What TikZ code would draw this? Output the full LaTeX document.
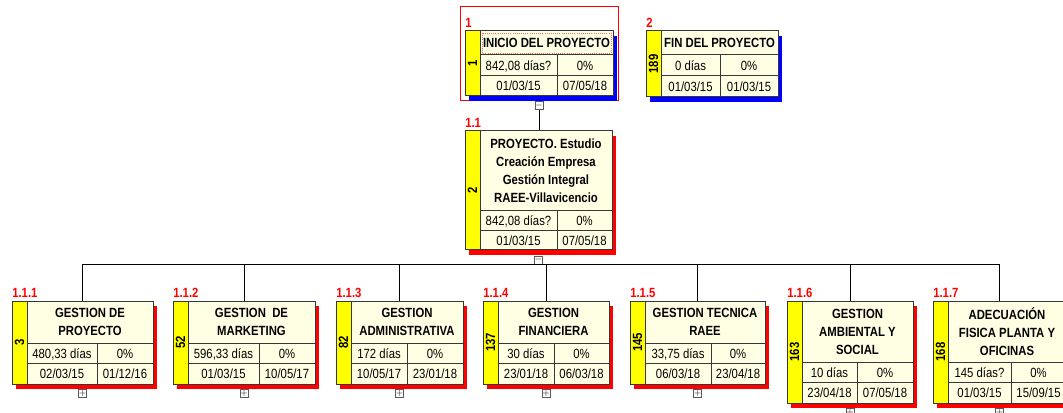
\documentclass[tikz,border=0pt]{standalone}
\usepackage{fontspec}
\setmainfont{Liberation Sans}[FakeStretch=0.85]
\usepackage{tikz}
\usetikzlibrary{calc,fit}

\definecolor{cellcream}{RGB}{255,255,228}
\definecolor{idyellow}{RGB}{255,255,0}
\definecolor{wbsred}{RGB}{255,0,0}
\definecolor{wbsblue}{RGB}{0,0,255}
\definecolor{edgegray}{RGB}{55,55,55}

% box frame: name, left, top, right, bottom, header bottom, column split, id, shadow
\newcommand{\wbsbox}[9]{%
  \fill[#9] ({#2+4},{#3+5}) rectangle ({#4+4},{#5+5});
  \coordinate (#1-nw) at (#2,#3);
  \coordinate (#1-se) at (#4,#5);
  \node[wbs, fit=(#1-nw)(#1-se)] (#1) {};
  \draw[wbsline, fill=idyellow] (#2,#3) rectangle ({#2+15},#5);
  \node[idtext] (#1-id) at ({#2+7.5},{(#3+#5)/2}) {#8};
  \draw[wbsline] ({#2+15},#6) -- (#4,#6);
  \draw[wbsline] ({#2+15},{(#6+#5)/2}) -- (#4,{(#6+#5)/2});
  \draw[wbsline] (#7,#6) -- (#7,#5);
  \coordinate (#1-title) at ({(#2+15+#4)/2},{(#3+#6)/2});
  \coordinate (#1-dur) at ({(#2+15+#7)/2},{(3*#6+#5)/4});
  \coordinate (#1-pct) at ({(#7+#4)/2},{(3*#6+#5)/4});
  \coordinate (#1-start) at ({(#2+15+#7)/2},{(#6+3*#5)/4});
  \coordinate (#1-end) at ({(#7+#4)/2},{(#6+3*#5)/4});
}
% box texts: name, code, title, duration, percent, start, end
\newcommand{\wbstext}[7]{%
  \node[codelab] (#1-c) at ($(#1-nw)+(0,-3)$) {#2};
  \node[ttl] (#1-t) at (#1-title) {#3};
  \node[celltext] (#1-d) at (#1-dur) {#4};
  \node[celltext] (#1-p) at (#1-pct) {#5};
  \node[celltext] (#1-s) at (#1-start) {#6};
  \node[celltext] (#1-e) at (#1-end) {#7};
}

\begin{document}
\begin{tikzpicture}[x=0.75pt, y=-0.75pt,
  wbs/.style={draw=edgegray, fill=cellcream, line width=0.75pt, inner sep=0pt},
  wbsline/.style={draw=edgegray, line width=0.75pt},
  idtext/.style={rotate=90, font=\bfseries\fontsize{10}{12}\selectfont, inner sep=0pt},
  codelab/.style={anchor=south west, text=wbsred, font=\bfseries\fontsize{10}{12}\selectfont, inner sep=0pt},
  ttl/.style={align=center, font=\bfseries\fontsize{10}{13.5}\selectfont, inner sep=0pt},
  celltext/.style={font=\fontsize{10}{12}\selectfont, inner sep=0pt, text height=7.2pt, text depth=0pt},
  conn/.style={draw=black, line width=0.75pt},
  toggle/.style={draw=gray!70!black, fill=white, minimum size=6pt, inner sep=0pt,
                 font=\fontsize{6}{6}\selectfont},
]
\useasboundingbox (0,0) rectangle (1063,413);
\clip (0,0) rectangle (1063,413);

% Top row: start and end
\draw[wbsred, line width=0.75pt] (460,7) rectangle (618,101);
\wbsbox{b1}{465}{31}{613}{96}{55}{557}{1}{wbsblue}
\wbstext{b1}{1}{INICIO DEL PROYECTO}{842,08 días?}{0\%}{01/03/15}{07/05/18}
\draw[wbsred!60, densely dotted, line width=0.6pt] (482,33) rectangle (611,53);
\wbsbox{b2}{646}{31}{778}{97}{55}{720}{189}{wbsblue}
\wbstext{b2}{2}{FIN DEL PROYECTO}{0 días}{0\%}{01/03/15}{01/03/15}

% Project summary
\wbsbox{b11}{465}{131}{612}{250}{211}{557}{2}{wbsred}
\wbstext{b11}{1.1}{PROYECTO. Estudio\\Creación Empresa\\Gestión Integral\\RAEE-Villavicencio}{842,08 días?}{0\%}{01/03/15}{07/05/18}

% Bottom row: work packages
\wbsbox{b111}{12}{301}{153}{384}{343}{97}{3}{wbsred}
\wbstext{b111}{1.1.1}{GESTION DE\\PROYECTO}{480,33 días}{0\%}{02/03/15}{01/12/16}
\wbsbox{b112}{173}{301}{315}{384}{343}{259}{52}{wbsred}
\wbstext{b112}{1.1.2}{GESTION\ \ DE\\MARKETING}{596,33 días}{0\%}{01/03/15}{10/05/17}
\wbsbox{b113}{336}{301}{463}{384}{343}{407}{82}{wbsred}
\wbstext{b113}{1.1.3}{GESTION\\ADMINISTRATIVA}{172 días}{0\%}{10/05/17}{23/01/18}
\wbsbox{b114}{483}{301}{609}{384}{343}{554}{137}{wbsred}
\wbstext{b114}{1.1.4}{GESTION\\FINANCIERA}{30 días}{0\%}{23/01/18}{06/03/18}
\wbsbox{b115}{630}{301}{765}{384}{343}{711}{145}{wbsred}
\wbstext{b115}{1.1.5}{GESTION TECNICA\\RAEE}{33,75 días}{0\%}{06/03/18}{23/04/18}
\wbsbox{b116}{787}{301}{913}{403}{362}{857}{163}{wbsred}
\wbstext{b116}{1.1.6}{GESTION\\AMBIENTAL Y\\SOCIAL}{10 días}{0\%}{23/04/18}{07/05/18}
\wbsbox{b117}{933}{301}{1066}{403}{362}{1011}{168}{wbsred}
\wbstext{b117}{1.1.7}{ADECUACIÓN\\FISICA PLANTA Y\\OFICINAS}{145 días?}{0\%}{01/03/15}{15/09/15}

% Expand / collapse marks
\node[toggle] (t1) at ($(b1.south)+(0,9)$) {$-$};
\node[toggle] (t11) at ($(b11.south)+(0,9.5)$) {$-$};
\foreach \b in {b111,b112,b113,b114,b115,b116,b117}
  \node[toggle] (t\b) at ($(\b.south)+(0,9)$) {$+$};

% Connectors
\draw[conn] (t1.south) -- (t1.south |- b11.north);
\draw[conn] (b111.north) |- (t11.south) -| (b117.north);
\foreach \b in {b112,b113,b114,b115,b116}
  \draw[conn] (\b.north) -- (\b.north |- t11.south);
\end{tikzpicture}
\end{document}
